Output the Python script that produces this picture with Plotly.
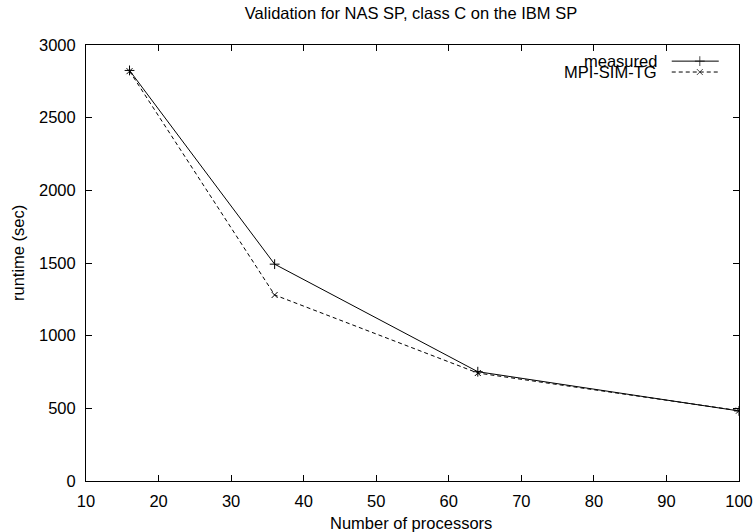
import plotly.graph_objects as go

procs = [16, 36, 64, 100]
measured = [2825, 1492, 752, 482]
mpi_sim_tg = [2820, 1280, 743, 484]
series_names = ["measured", "MPI-SIM-TG"]

FONT = "Liberation Sans, Arial, Helvetica, sans-serif"
FS = 16.5
W, H = 754, 532
L, T, R, B = 86, 45, 15, 51
pw, ph = W - L - R, H - T - B

fig = go.Figure()
fig.add_trace(go.Scatter(x=procs, y=measured, mode="lines+markers", name=series_names[0],
                         line=dict(color="black", width=1),
                         marker=dict(symbol="cross-thin", size=7, line=dict(color="black", width=1)),
                         showlegend=False))
fig.add_trace(go.Scatter(x=procs, y=mpi_sim_tg, mode="lines+markers", name=series_names[1],
                         line=dict(color="black", width=1, dash="4px,3px"),
                         marker=dict(symbol="x-thin", size=6, line=dict(color="black", width=1)),
                         showlegend=False))

# legend samples (gnuplot style: text then sample) on an overlay axis in plot-fraction units
fig.add_trace(go.Scatter(x=[0.897, 0.94, 0.969], y=[0.963, 0.963, 0.963], xaxis="x2", yaxis="y2",
                         mode="lines+markers", showlegend=False, hoverinfo="skip",
                         line=dict(color="black", width=1),
                         marker=dict(symbol="cross-thin", size=[0, 7, 0],
                                     line=dict(color="black", width=1))))
fig.add_trace(go.Scatter(x=[0.897, 0.94, 0.969], y=[0.938, 0.938, 0.938], xaxis="x2", yaxis="y2",
                         mode="lines+markers", showlegend=False, hoverinfo="skip",
                         line=dict(color="black", width=1, dash="4px,3px"),
                         marker=dict(symbol="x-thin", size=[0, 6, 0],
                                     line=dict(color="black", width=1))))
for yv, txt in [(0.963, series_names[0]), (0.938, series_names[1])]:
    fig.add_annotation(x=0.877, y=yv, xref="x2", yref="y2", text=txt, showarrow=False,
                       xanchor="right", yanchor="middle", font=dict(family=FONT, size=FS, color="black"))

# axis titles
fig.add_annotation(x=(411 - L) / pw, y=-(523 - 481) / ph, xref="paper", yref="paper",
                   text="Number of processors", showarrow=False,
                   font=dict(family=FONT, size=FS, color="black"), xanchor="center", yanchor="middle")
fig.add_annotation(x=-(L - 18) / pw, y=(481 - 253) / ph, xref="paper", yref="paper",
                   text="runtime (sec)", textangle=-90, showarrow=False,
                   font=dict(family=FONT, size=FS, color="black"), xanchor="center", yanchor="middle")

axis_common = dict(showgrid=False, zeroline=False, showline=True, linecolor="black", linewidth=1,
                   mirror="ticks", ticks="inside", ticklen=6, tickwidth=1, tickcolor="black",
                   automargin=False,
                   tickfont=dict(family=FONT, size=FS, color="black"))
fig.update_layout(
    width=W, height=H,
    margin=dict(l=L, r=R, t=T, b=B),
    paper_bgcolor="white", plot_bgcolor="white",
    title=dict(text="Validation for NAS SP, class C on the IBM SP", x=(411 - L) / pw, xanchor="center",
               xref="paper", y=1 - 13 / H, yanchor="middle",
               font=dict(family=FONT, size=FS, color="black")),
    xaxis=dict(range=[10, 100], dtick=10, tick0=10, ticklabelstandoff=5, **axis_common),
    yaxis=dict(range=[0, 3000], dtick=500, ticklabelstandoff=6, **axis_common),
    xaxis2=dict(overlaying="x", range=[0, 1], visible=False, fixedrange=True),
    yaxis2=dict(overlaying="y", range=[0, 1], visible=False, fixedrange=True),
)
fig.write_html("out.html", config={"displayModeBar": False},
               post_script="document.body.style.margin='0';document.body.style.overflow='hidden';")
